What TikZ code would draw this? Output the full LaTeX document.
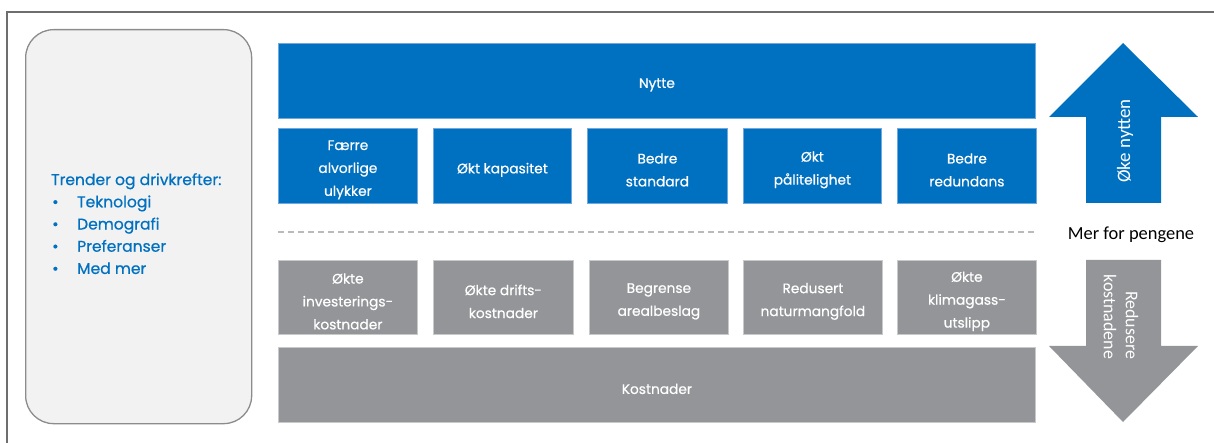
\documentclass[tikz,border=0pt]{standalone}
\usepackage{fontspec}
\setmainfont{Poppins}[FakeBold=0.6]
\newfontfamily\calfont{Carlito}
\definecolor{nblue}{HTML}{0070C0}
\definecolor{nblueedge}{HTML}{6FA8DC}
\definecolor{ngray}{HTML}{939598}
\definecolor{ngrayedge}{HTML}{C8C9CB}
\definecolor{lbg}{HTML}{F2F2F2}
\definecolor{lbgedge}{HTML}{8C8C8C}
\definecolor{frame}{HTML}{6E6E6E}
\begin{document}
\begin{tikzpicture}[x=1bp,y=-1bp,
  boxfont/.style={font=\fontsize{13.8}{23}\selectfont},
  txt/.style={boxfont, text=white, align=center, inner sep=0pt, yshift=-4bp},
  bluebox/.style={fill=nblue, draw=nblueedge, line width=0.8bp, inner sep=0pt, anchor=north west, minimum height=75bp},
  graybox/.style={fill=ngray, draw=ngrayedge, line width=0.8bp, inner sep=0pt, anchor=north west, minimum height=74bp},
  arrowtext/.style={text=white, font=\calfont\fontsize{19}{22}\selectfont, inner sep=0pt}
]
\useasboundingbox (0,0) rectangle (1214,443);
% frame
\coordinate (fbl) at (7,443);
\coordinate (ftl) at (7,12);
\coordinate (ftr) at (1214,12);
\draw[frame, line width=1.3bp] (fbl) -- (ftl) -- (ftr);

% left rounded panel
\node[draw=lbgedge, fill=lbg, line width=1.3bp, rounded corners=28bp, minimum width=226bp, minimum height=394bp, anchor=north west, inner sep=0pt] (panel) at (25,29) {};
\node[anchor=north west, inner sep=0pt, align=left, text=nblue, font=\fontsize{15.6}{22.3}\selectfont] (trends) at (51,173)
 {Trender og drivkrefter:\\
  \makebox[26bp][l]{\hspace*{1bp}\textbullet}Teknologi\\
  \makebox[26bp][l]{\hspace*{1bp}\textbullet}Demografi\\
  \makebox[26bp][l]{\hspace*{1bp}\textbullet}Preferanser\\
  \makebox[26bp][l]{\hspace*{1bp}\textbullet}Med mer};

% benefits
\node[bluebox, minimum width=757bp, label={[txt]center:Nytte}] (nytte) at (278,43) {};
\node[bluebox, minimum width=139bp, label={[txt]center:Færre\\alvorlige\\ulykker}] (b1) at (278,128) {};
\node[bluebox, minimum width=138bp, label={[txt]center:Økt kapasitet}] (b2) at (433,128) {};
\node[bluebox, minimum width=140bp, label={[txt]center:Bedre\\standard}] (b3) at (587,128) {};
\node[bluebox, minimum width=138bp, label={[txt]center:Økt\\pålitelighet}] (b4) at (743,128) {};
\node[bluebox, minimum width=139bp, label={[txt]center:Bedre\\redundans}] (b5) at (897,128) {};

% divider
\coordinate (dl) at (278,232);
\coordinate (dr) at (1036,232);
\draw[ngrayedge!80!gray, line width=1.2bp, dash pattern=on 6bp off 4bp] (dl) -- (dr);

% costs
\node[graybox, minimum width=139bp, label={[txt]center:Økte\\investerings-\\kostnader}] (c1) at (278,260) {};
\node[graybox, minimum width=140bp, label={[txt]center:Økte drifts-\\kostnader}] (c2) at (433,260) {};
\node[graybox, minimum width=139bp, label={[txt]center:Begrense\\arealbeslag}] (c3) at (589,260) {};
\node[graybox, minimum width=139bp, label={[txt]center:Redusert\\naturmangfold}] (c4) at (743,260) {};
\node[graybox, minimum width=139bp, label={[txt]center:Økte\\klimagass-\\utslipp}] (c5) at (897,260) {};
\node[graybox, minimum width=757bp, minimum height=75bp, label={[txt]center:Kostnader}] (kost) at (278,347) {};

% arrows
\fill[nblue] (1123,43) -- (1198,117) -- (1161,117) -- (1161,203) -- (1086,203) -- (1086,117) -- (1049,117) -- cycle;
\node[arrowtext, rotate=90] (up) at (1125,141) {Øke nytten};
\node[inner sep=0pt, font=\calfont\fontsize{18.5}{21}\selectfont] (mer) at (1131,235) {Mer for pengene};
\fill[ngray] (1086,260) -- (1161,260) -- (1161,346) -- (1198,346) -- (1123,422) -- (1049,346) -- (1086,346) -- cycle;
\node[arrowtext, rotate=-90, align=right, font=\calfont\fontsize{18}{22}\selectfont] (down) at (1121,317) {Redusere\\kostnadene};
\end{tikzpicture}
\end{document}
